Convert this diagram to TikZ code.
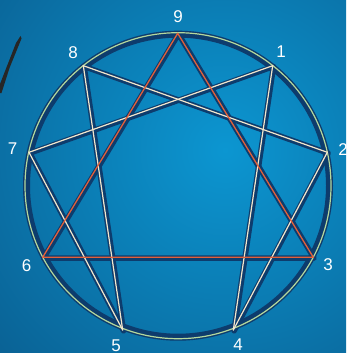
\documentclass[tikz,border=0pt]{standalone}
\usepackage{fontspec}
\setmainfont{Liberation Sans}
\begin{document}
\begin{tikzpicture}[x=1pt,y=-1pt,
  navyline/.style={draw=navy,line width=5.5pt,line cap=round,line join=round},
  creamline/.style={draw=cream,line width=1.2pt,line cap=round},
  redline/.style={draw=tri,line width=1.3pt,line cap=round,line join=round},
  lbl/.style={text=white,font=\fontsize{17}{17}\selectfont,inner sep=0pt}]
\definecolor{navy}{HTML}{0D3C6D}
\definecolor{cream}{HTML}{F3E7CC}
\definecolor{tri}{HTML}{E2603A}
\definecolor{ring}{HTML}{B5D89C}
\definecolor{bgin}{HTML}{0C96D1}
\definecolor{bgout}{HTML}{0A5C8E}
\useasboundingbox (0,0) rectangle (346,353);
\begin{scope}
\clip (0,0) rectangle (346,353);
\shade[inner color=bgin,outer color=bgout] (225,150) circle (340);
\end{scope}
% pen stroke
\fill[black!85] (20.5,36) -- (21.5,38.5) -- (9.5,68) -- (1.5,93) -- (0,93) -- (0,84) -- (16,43) -- cycle;
% points
\coordinate (p9) at (177.7,33.3);
\coordinate (p8) at (83.3,65.7);
\coordinate (p1) at (272.7,65.7);
\coordinate (p7) at (29,152.3);
\coordinate (p2) at (327.3,152.3);
\coordinate (p6) at (42.7,257.3);
\coordinate (p3) at (313.3,257.3);
\coordinate (p5) at (122.7,330);
\coordinate (p4) at (233.3,330);
\coordinate (c) at (178,185.7);
% navy under-layer
\draw[navy,line width=7pt] (c) circle (151.5);
\begin{scope}[transform canvas={xshift=0.8pt,yshift=-0.8pt}]
\draw[navyline] (p9) -- (p3) -- (p6) -- cycle;
\draw[navyline] (p1) -- (p4) -- (p2) -- (p8) -- (p5) -- (p7) -- cycle;
\end{scope}
% coloured lines
\draw[ring,line width=1.2pt] (c) circle (153);
\draw[creamline] (p1) -- (p4);
\draw[creamline] (p4) -- (p2);
\draw[creamline] (p2) -- (p8);
\draw[creamline] (p8) -- (p5);
\draw[creamline] (p5) -- (p7);
\draw[creamline] (p7) -- (p1);
\draw[redline] (p9) -- (p3) -- (p6) -- cycle;
% labels
\node[lbl] (l9) at (178,16.7) {9};
\node[lbl] (l8) at (73,53) {8};
\node[lbl] (l1) at (281,51.7) {1};
\node[lbl] (l2) at (343,150) {2};
\node[lbl] (l7) at (12.5,149) {7};
\node[lbl] (l6) at (26.7,266) {6};
\node[lbl] (l3) at (328,264.6) {3};
\node[lbl] (l5) at (116,346) {5};
\node[lbl] (l4) at (238,345) {4};
\end{tikzpicture}
\end{document}
